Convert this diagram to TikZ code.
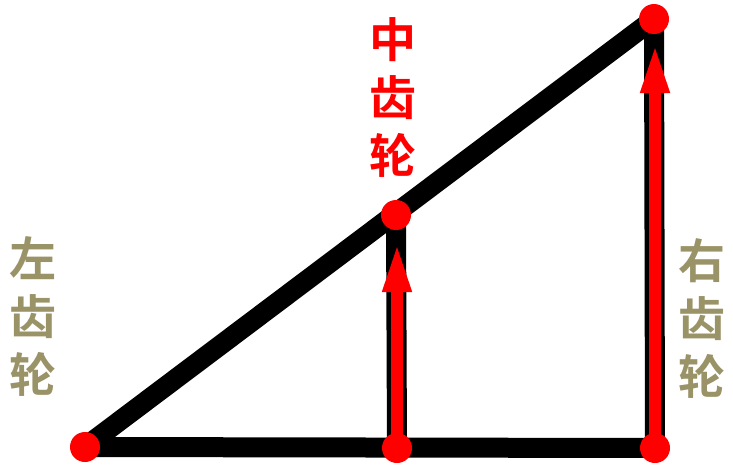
\documentclass[tikz,border=0pt]{standalone}
\usepackage{fontspec}
\newfontfamily\cjk{Noto Sans CJK SC Bold}
\usetikzlibrary{arrows.meta}
\definecolor{olivetext}{RGB}{154,147,104}
\definecolor{pured}{RGB}{255,0,0}
\tikzset{
  beam/.style={line width=20pt, black},
  redarrow/.style={line width=12pt, pured, -{Triangle[length=50pt,width=26pt]}},
  dot/.style={circle, fill=pured, minimum size=30pt, inner sep=0pt},
  lbl/.style={font=\cjk\fontsize{47}{58}\selectfont, align=center, inner sep=0pt}
}
\begin{document}
\begin{tikzpicture}[x=1pt,y=-1pt]
\useasboundingbox (0,0) rectangle (733,474);
\coordinate (A) at (85,447);
\coordinate (M) at (397,448);
\coordinate (B) at (655,448);
\coordinate (T) at (654,19);
\coordinate (C) at (396,215);
\coordinate (Mt) at (397,242);
\coordinate (Bt) at (655,43);
% black beams
\draw[beam] (A) -- (B);
\draw[beam] (A) -- (T);
\draw[beam] (B) -- (T);
\draw[beam] (M) -- (C);
% red arrows
\draw[redarrow] (M) -- (Mt);
\draw[redarrow] (B) -- (Bt);
% dots
\node[dot] (dA) at (A) {};
\node[dot] (dM) at (M) {};
\node[dot] (dB) at (B) {};
\node[dot] (dT) at (T) {};
\node[dot] (dC) at (C) {};
% labels
\node[lbl, text=pured] (mid) at (393,97) {中\\齿\\轮};
\node[lbl, text=olivetext] (left) at (33,316) {左\\齿\\轮};
\node[lbl, text=olivetext] (right) at (702,318) {右\\齿\\轮};
\end{tikzpicture}
\end{document}
